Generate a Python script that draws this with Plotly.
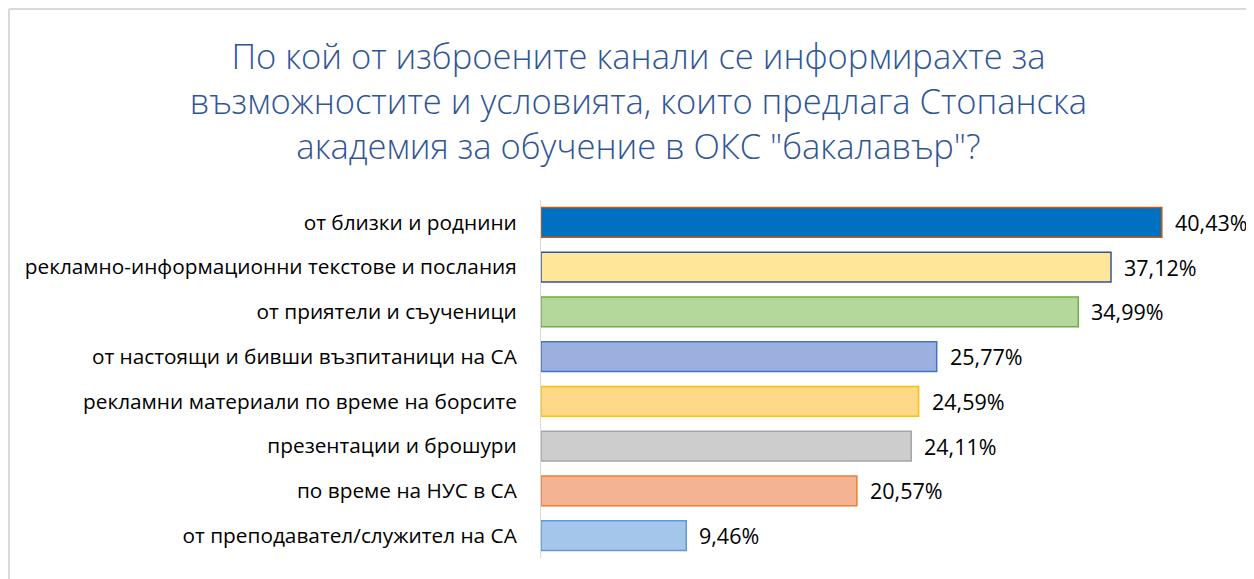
import plotly.graph_objects as go

categories = [
    "от близки и роднини",
    "рекламно-информационни текстове и послания",
    "от приятели и съученици",
    "от настоящи и бивши възпитаници на СА",
    "рекламни материали по време на борсите",
    "презентации и брошури",
    "по време на НУС в СА",
    "от преподавател/служител на СА",
]
values = [40.43, 37.12, 34.99, 25.77, 24.59, 24.11, 20.57, 9.46]
fill_colors = ["#0070C0", "#FFE699", "#B4D89C", "#9CB0E0", "#FFD98A", "#CDCDCD", "#F4B393", "#A4C6EA"]
line_colors = ["#C55A11", "#2F5597", "#70AD47", "#4472C4", "#FFC000", "#A5A5A5", "#ED7D31", "#5B9BD5"]
labels = [f"{v:.2f}".replace(".", ",") + "%" for v in values]

FONT = "Open Sans"
W, H = 1246, 571
ml, mr, mt, mb = 533, 22, 192, 21
pw, ph = W - ml - mr, H - mt - mb

fig = go.Figure(go.Bar(
    x=values, y=categories, orientation="h",
    marker=dict(color=fill_colors, line=dict(color=line_colors, width=1.5)),
    cliponaxis=False, width=0.67, hoverinfo="x+y",
))

annotations = [
    dict(x=v, y=c, xref="x", yref="y", text=t, showarrow=False,
         xanchor="left", yanchor="middle", xshift=11,
         font=dict(size=21.5, color="#000000", family=FONT))
    for v, c, t in zip(values, categories, labels)
]

fig.update_layout(
    width=W, height=H,
    margin=dict(l=ml, r=mr, t=mt, b=mb, pad=0, autoexpand=False),
    paper_bgcolor="white", plot_bgcolor="white",
    font=dict(family=FONT, color="#000000"),
    title=dict(
        text="По кой от изброените канали се информирахте за<br>възможностите и условията, които предлага Стопанска<br>академия за обучение в ОКС \"бакалавър\"?",
        x=0.506, xanchor="center", y=0.893, yanchor="middle",
        font=dict(size=34.5, color="#2F5597", family=FONT, weight=300),
    ),
    showlegend=False,
    annotations=annotations,
    xaxis=dict(range=[0, 45], visible=False, automargin=False),
    yaxis=dict(autorange="reversed", showline=True, linecolor="#D9D9D9", linewidth=1,
               automargin=False,
               ticks="", ticklabelstandoff=19, tickfont=dict(size=20.8, color="#000000", family=FONT),
               showgrid=False),
    shapes=[
        dict(type="line", xref="paper", yref="paper",
             x0=(1 - ml) / pw, x1=(1 - ml) / pw, y0=-mb / ph, y1=1 + (mt - 1) / ph,
             line=dict(color="#D9D9D9", width=2)),
        dict(type="line", xref="paper", yref="paper",
             x0=(1 - ml) / pw, x1=1 + mr / pw, y0=1 + (mt - 1) / ph, y1=1 + (mt - 1) / ph,
             line=dict(color="#D9D9D9", width=2)),
    ],
)

fig.write_html("out.html")
